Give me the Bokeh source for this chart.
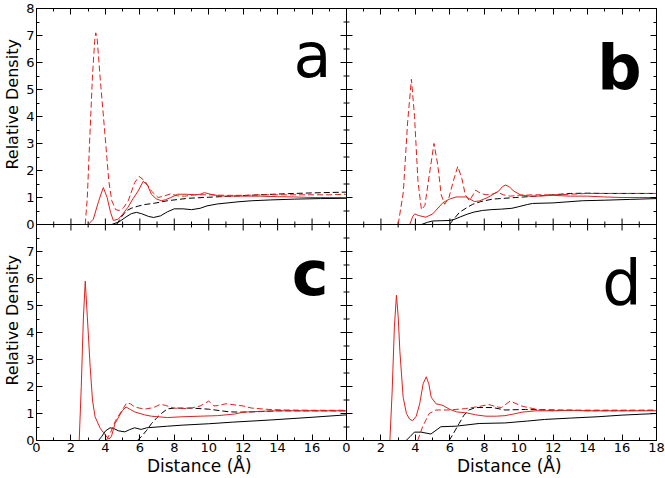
import math
from bokeh.plotting import figure
from bokeh.models import Range1d, LinearAxis, FixedTicker, Span, Label, CustomJSTickFormatter
from bokeh.embed import file_html
from bokeh.resources import INLINE

# ---------------- data ----------------
# panel a
a_rs_x = [3.0, 3.3, 3.6, 3.88, 4.1, 4.3, 4.46, 4.75, 5.0, 5.3, 5.6, 5.9, 6.2, 6.45, 6.67, 6.95, 7.25, 7.5, 7.8, 8.2, 8.7, 9.2, 9.5, 9.75, 10.1, 10.6, 11, 12, 13, 14, 15, 16, 17, 18]
a_rs_y = [0.0, 0.2, 0.85, 1.37, 1.0, 0.45, 0.15, 0.2, 0.38, 0.63, 0.95, 1.24, 1.6, 1.45, 1.12, 0.95, 0.88, 0.92, 1.0, 1.12, 1.12, 1.1, 1.12, 1.18, 1.12, 1.06, 1.05, 1.05, 1.05, 1.03, 1.02, 1.0, 1.0, 1.0]
a_rd_x = [2.83, 2.95, 3.1, 3.25, 3.38, 3.44, 3.52, 3.7, 3.98, 4.2, 4.37, 4.6, 4.8, 5.05, 5.33, 5.7, 5.96, 6.3, 6.67, 7.06, 7.44, 7.8, 8.2, 8.6, 9.2, 10, 11, 12, 13, 14, 15, 16, 17, 18]
a_rd_y = [0.0, 1.0, 3.3, 5.5, 6.8, 7.1, 6.9, 5.4, 3.3, 1.6, 0.88, 0.55, 0.52, 0.62, 0.88, 1.55, 1.78, 1.6, 1.24, 1.0, 1.06, 1.14, 1.06, 1.05, 1.1, 1.1, 1.08, 1.08, 1.1, 1.1, 1.1, 1.1, 1.1, 1.12]
a_ks_x = [4.37, 4.8, 5.2, 5.5, 5.8, 6.1, 6.5, 6.8, 7.2, 7.6, 8.0, 8.5, 9.0, 9.5, 9.9, 10.5, 11.7, 12.5, 13.6, 15, 16.5, 18]
a_ks_y = [0.0, 0.1, 0.28, 0.4, 0.45, 0.4, 0.3, 0.26, 0.32, 0.47, 0.58, 0.58, 0.55, 0.6, 0.69, 0.76, 0.84, 0.88, 0.91, 0.94, 0.96, 0.97]
a_kd_x = [4.65, 4.9, 5.2, 5.5, 5.9, 6.3, 6.87, 7.6, 8.8, 10, 11.7, 13, 14.5, 16, 18]
a_kd_y = [0.0, 0.25, 0.5, 0.6, 0.68, 0.74, 0.79, 0.88, 0.97, 1.01, 1.06, 1.1, 1.14, 1.17, 1.2]

# panel b
b_rs_x = [3.67, 3.85, 3.96, 4.2, 4.6, 5.0, 5.6, 5.98, 6.37, 6.95, 7.42, 7.7, 8.2, 8.84, 9.05, 9.23, 9.45, 9.7, 10.1, 10.6, 11, 12, 13, 14, 15, 16, 17, 18]
b_rs_y = [0.0, 0.3, 0.39, 0.33, 0.27, 0.39, 0.81, 0.94, 1.02, 1.02, 0.85, 0.87, 1.0, 1.24, 1.4, 1.46, 1.4, 1.24, 1.1, 1.05, 1.05, 1.08, 1.05, 1.05, 1.02, 1.0, 1.0, 1.0]
b_rd_x = [3.0, 3.3, 3.55, 3.77, 3.95, 4.15, 4.35, 4.55, 4.8, 5.08, 5.3, 5.5, 5.7, 5.95, 6.2, 6.46, 6.7, 6.9, 7.13, 7.35, 7.5, 7.8, 8.1, 8.45, 8.77, 9.1, 9.5, 10, 11, 12, 13, 14, 15, 16, 17, 18]
b_rd_y = [0.0, 1.2, 3.8, 5.38, 4.0, 1.6, 0.55, 0.7, 1.8, 3.0, 2.2, 1.1, 0.75, 1.0, 1.6, 2.15, 1.7, 1.1, 0.88, 1.1, 1.27, 1.15, 1.1, 1.12, 1.2, 1.1, 1.05, 1.08, 1.1, 1.1, 1.12, 1.15, 1.15, 1.15, 1.15, 1.15]
b_ks_x = [4.35, 4.7, 5.0, 5.5, 6.0, 6.3, 6.6, 7.0, 7.4, 7.9, 8.4, 9.0, 9.6, 10.0, 10.5, 10.8, 12, 13.7, 15, 16.5, 18]
b_ks_y = [0.0, 0.08, 0.13, 0.14, 0.15, 0.2, 0.28, 0.38, 0.46, 0.52, 0.55, 0.57, 0.6, 0.66, 0.74, 0.78, 0.8, 0.88, 0.9, 0.93, 0.96]
b_kd_x = [5.98, 6.2, 6.56, 7.0, 7.33, 7.8, 8.48, 9.83, 11, 12, 13, 14, 15, 16, 17, 18]
b_kd_y = [0.0, 0.18, 0.45, 0.63, 0.75, 0.85, 0.94, 1.0, 1.05, 1.1, 1.15, 1.16, 1.15, 1.15, 1.15, 1.15]

# panel c
c_rs_x = [2.48, 2.6, 2.72, 2.83, 2.95, 3.12, 3.25, 3.4, 3.7, 4.0, 4.2, 4.35, 4.56, 4.8, 5.0, 5.2, 5.45, 5.7, 6.27, 6.67, 7.6, 8.5, 9.5, 10.5, 11.5, 12, 13, 14, 15, 16, 17, 18]
c_rs_y = [0.0, 2.0, 4.5, 5.9, 4.6, 2.7, 1.5, 0.88, 0.45, 0.2, 0.05, 0.15, 0.63, 0.9, 1.12, 1.24, 1.15, 1.06, 0.95, 0.9, 0.85, 0.88, 0.9, 0.92, 0.98, 1.05, 1.08, 1.1, 1.1, 1.1, 1.1, 1.1]
c_rd_x = [4.05, 4.3, 4.6, 5.0, 5.23, 5.45, 5.7, 6.27, 6.8, 7.2, 7.5, 7.96, 8.5, 9.0, 9.5, 10.0, 10.3, 10.6, 11.0, 12, 12.5, 13.5, 14.5, 16, 17, 18]
c_rd_y = [0.0, 0.3, 0.75, 1.15, 1.39, 1.36, 1.24, 1.16, 1.22, 1.34, 1.3, 1.2, 1.18, 1.2, 1.28, 1.46, 1.28, 1.3, 1.36, 1.28, 1.2, 1.15, 1.13, 1.12, 1.12, 1.12]
c_ks_x = [3.6, 3.79, 4.0, 4.27, 4.5, 4.75, 5.13, 5.4, 5.7, 6.08, 6.4, 7.0, 7.6, 8.5, 10, 11.4, 13.6, 16, 18]
c_ks_y = [0.0, 0.15, 0.35, 0.47, 0.44, 0.36, 0.32, 0.4, 0.47, 0.41, 0.47, 0.5, 0.53, 0.57, 0.62, 0.68, 0.76, 0.86, 0.95]
c_kd_x = [5.85, 6.1, 6.4, 6.67, 7.0, 7.25, 7.6, 8.0, 9.0, 10.0, 11.2, 12, 13, 14, 16, 18]
c_kd_y = [0.0, 0.15, 0.38, 0.62, 0.85, 1.0, 1.17, 1.2, 1.2, 1.16, 1.06, 1.05, 1.07, 1.1, 1.1, 1.1]

# panel d
d_rs_x = [2.52, 2.65, 2.78, 2.9, 3.0, 3.1, 3.29, 3.48, 3.65, 3.83, 4.05, 4.25, 4.45, 4.63, 4.78, 4.92, 5.2, 5.6, 6.0, 6.4, 7.0, 7.5, 8.1, 8.7, 9.2, 9.7, 10.2, 11, 12, 13, 14, 16, 18]
d_rs_y = [0.0, 1.8, 4.2, 5.38, 4.6, 3.3, 1.6, 1.0, 0.8, 0.73, 0.9, 1.36, 2.1, 2.36, 2.1, 1.6, 1.36, 1.3, 1.15, 1.06, 1.02, 0.95, 0.9, 0.9, 0.92, 0.98, 1.05, 1.1, 1.1, 1.12, 1.1, 1.1, 1.1]
d_rd_x = [4.13, 4.42, 4.8, 5.2, 5.96, 6.9, 7.6, 8.27, 8.7, 9.0, 9.5, 10.2, 11.15, 12, 13, 14, 16, 18]
d_rd_y = [0.0, 0.51, 1.0, 1.13, 1.13, 1.18, 1.25, 1.33, 1.25, 1.22, 1.46, 1.27, 1.14, 1.1, 1.12, 1.1, 1.1, 1.12]
d_ks_x = [3.46, 3.7, 3.94, 4.33, 4.9, 5.2, 5.48, 6.35, 7.7, 9.2, 10.5, 11.5, 13, 14.6, 16, 18]
d_ks_y = [0.0, 0.15, 0.31, 0.31, 0.24, 0.38, 0.51, 0.53, 0.63, 0.65, 0.72, 0.78, 0.83, 0.88, 0.94, 1.0]
d_kd_x = [5.96, 6.2, 6.54, 6.8, 7.1, 7.5, 8.5, 9.2, 10.4, 11.2, 13, 15, 18]
d_kd_y = [0.0, 0.25, 0.63, 0.92, 1.13, 1.22, 1.22, 1.13, 1.15, 1.14, 1.12, 1.12, 1.12]

panel_letters = ["a", "b", "c", "d"]
letter_x = [17.13, 17.13, 16.96, 17.13]
letter_y = [6.25, 5.8, 6.2, 5.85]
letter_bold = [False, True, True, False]

x_ticks_left = [0, 2, 4, 6, 8, 10, 12, 14, 16]
x_ticks_right = [0, 2, 4, 6, 8, 10, 12, 14, 16, 18]
y_ticks_bottom = [0, 1, 2, 3, 4, 5, 6, 7]
y_ticks_top = [0, 1, 2, 3, 4, 5, 6, 7, 8]
x_label = "Distance (Å)"
y_label = "Relative Density"

# ---------------- styling ----------------
RED = "#e0201c"
BLACK = "#000000"
FONT = "DejaVu Sans"
XSPAN = 18   # each panel spans 0..18 in x
YSPAN = 8    # each panel spans 0..8 in y
FW, FH = 620, 432

p = figure(frame_width=FW, frame_height=FH, output_backend="svg", toolbar_location=None,
           x_range=Range1d(0, 2 * XSPAN), y_range=Range1d(0, 2 * YSPAN),
           min_border_left=31, min_border_right=9, min_border_top=8, min_border_bottom=34)
p.extra_x_ranges = {"right": Range1d(-XSPAN, XSPAN)}
p.extra_y_ranges = {"top": Range1d(-YSPAN, YSPAN)}
p.grid.visible = False
p.outline_line_color = BLACK
p.outline_line_alpha = 1.0
p.background_fill_color = "white"
p.border_fill_color = "white"

# tick positions on the combined frame
x_major = [t for t in x_ticks_left] + [XSPAN + t for t in x_ticks_right]
x_minor = [t + 1 for t in range(0, 2 * XSPAN, 2)]
y_major = [t for t in y_ticks_bottom] + [YSPAN + t for t in y_ticks_top]
y_minor = [t + 0.5 for t in range(0, 2 * YSPAN)]
x_over = {t: str(t) for t in x_ticks_left}
x_over.update({XSPAN + t: str(t) for t in x_ticks_right})
y_over = {t: str(t) for t in y_ticks_bottom}
y_over.update({YSPAN + t: str(t) for t in y_ticks_top})

def style_axis(ax):
    ax.axis_line_color = BLACK
    ax.major_tick_line_color = BLACK
    ax.minor_tick_line_color = BLACK
    ax.major_tick_in = 6
    ax.major_tick_out = 0
    ax.minor_tick_in = 3
    ax.minor_tick_out = 0
    ax.major_label_text_font = FONT
    ax.major_label_text_font_size = "13px"
    ax.major_label_text_color = BLACK
    ax.major_label_standoff = 2

def title_axis(ax, size):
    # an axis that only carries the panel titles as its tick labels
    ax.axis_line_color = None
    ax.major_tick_line_color = None
    ax.minor_tick_line_color = None
    ax.major_tick_in = 0
    ax.major_tick_out = 0
    ax.major_label_standoff = 1
    ax.major_label_text_font = FONT
    ax.major_label_text_font_size = size
    ax.major_label_text_color = BLACK

xb = p.xaxis[0]
xb.ticker = FixedTicker(ticks=x_major, minor_ticks=x_minor)
xb.major_label_overrides = x_over
style_axis(xb)
yl = p.yaxis[0]
yl.ticker = FixedTicker(ticks=y_major, minor_ticks=y_minor)
yl.major_label_overrides = y_over
style_axis(yl)

empty = CustomJSTickFormatter(code="return '';")
xt = LinearAxis(ticker=FixedTicker(ticks=x_major, minor_ticks=x_minor), formatter=empty)
style_axis(xt)
xt.major_label_standoff = 0
p.add_layout(xt, "above")
yr = LinearAxis(ticker=FixedTicker(ticks=y_major, minor_ticks=y_minor), formatter=empty)
style_axis(yr)
yr.major_label_standoff = 0
p.add_layout(yr, "right")

# per-panel axis titles (outer axes whose only tick labels are the titles)
x_title_pos = [9.45, XSPAN + 9.45]
y_title_pos = [4.45, YSPAN + 4.45]
xtitle = LinearAxis(ticker=FixedTicker(ticks=x_title_pos, minor_ticks=[]),
                    major_label_overrides={t: x_label for t in x_title_pos})
title_axis(xtitle, "17px")
p.add_layout(xtitle, "below")
ytitle = LinearAxis(ticker=FixedTicker(ticks=y_title_pos, minor_ticks=[]),
                    major_label_overrides={t: y_label for t in y_title_pos},
                    major_label_orientation="vertical")
title_axis(ytitle, "16px")
p.add_layout(ytitle, "left")

# internal panel boundaries and their crossing ticks
p.add_layout(Span(location=XSPAN, dimension="height", line_color=BLACK, line_width=1))
p.add_layout(Span(location=YSPAN, dimension="width", line_color=BLACK, line_width=1))
hx_major = [t for t in x_major if 0 < t < 2 * XSPAN]
p.scatter(hx_major, [YSPAN] * len(hx_major), marker="dash", angle=math.pi / 2, size=12, line_color=BLACK)
p.scatter(x_minor, [YSPAN] * len(x_minor), marker="dash", angle=math.pi / 2, size=6, line_color=BLACK)
vy_major = [t for t in y_major if 0 < t < 2 * YSPAN]
p.scatter([XSPAN] * len(vy_major), vy_major, marker="dash", size=12, line_color=BLACK)
p.scatter([XSPAN] * len(y_minor), y_minor, marker="dash", size=6, line_color=BLACK)

panels = [
    ("default", "top", (a_rs_x, a_rs_y), (a_rd_x, a_rd_y), (a_ks_x, a_ks_y), (a_kd_x, a_kd_y)),
    ("right", "top", (b_rs_x, b_rs_y), (b_rd_x, b_rd_y), (b_ks_x, b_ks_y), (b_kd_x, b_kd_y)),
    ("default", "default", (c_rs_x, c_rs_y), (c_rd_x, c_rd_y), (c_ks_x, c_ks_y), (c_kd_x, c_kd_y)),
    ("right", "default", (d_rs_x, d_rs_y), (d_rd_x, d_rd_y), (d_ks_x, d_ks_y), (d_kd_x, d_kd_y)),
]

for i, (xr, yrn, rs, rd, ks, kd) in enumerate(panels):
    kw = dict(x_range_name=xr, y_range_name=yrn, line_width=1)
    p.line(ks[0], ks[1], line_color=BLACK, **kw)
    p.line(kd[0], kd[1], line_color=BLACK, line_dash="6 3", **kw)
    p.line(rs[0], rs[1], line_color=RED, **kw)
    p.line(rd[0], rd[1], line_color=RED, line_dash="6 3", **kw)
    p.add_layout(Label(x=letter_x[i], y=letter_y[i], x_range_name=xr, y_range_name=yrn,
                       text=panel_letters[i], text_font=FONT, text_font_size="62px",
                       text_font_style="bold" if letter_bold[i] else "normal",
                       text_align="right", text_baseline="alphabetic", text_color=BLACK))

open("out.html", "w").write(file_html(p, INLINE))
